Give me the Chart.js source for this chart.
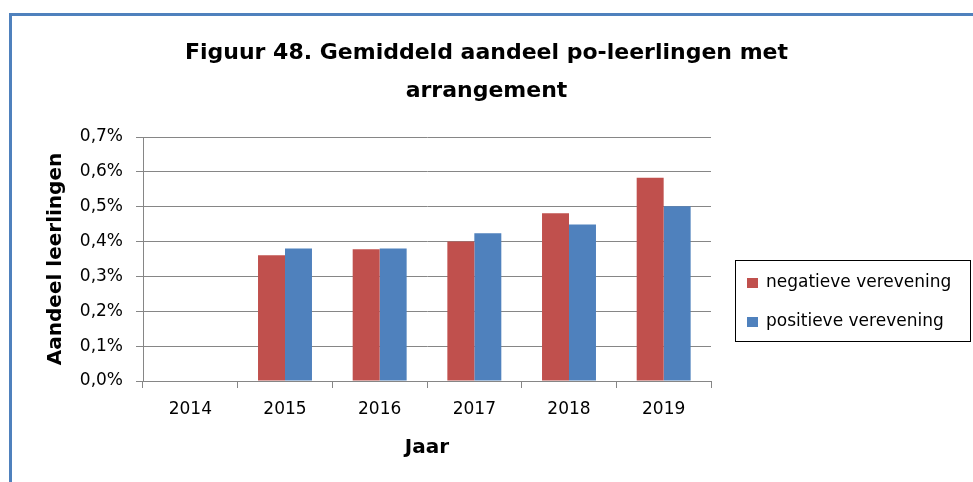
<!DOCTYPE html>
<html>
<head>
<meta charset="utf-8">
<script src="https://cdn.jsdelivr.net/npm/chart.js@4/dist/chart.umd.min.js"></script>
<style>
  html, body { margin: 0; padding: 0; background: #fff; }
  #frame {
    position: absolute; left: 9px; top: 13px; width: 990px; height: 490px;
    border-left: 3px solid #4F81BD; border-top: 3px solid #4F81BD;
  }
  #wrap { position: absolute; left: 0; top: 0; width: 973px; height: 482px; }
</style>
</head>
<body>
<div id="frame"></div>
<div id="wrap"><canvas id="chart"></canvas></div>
<script>
// Categories and values (share of pupils, in %)
const years = ['2014', '2015', '2016', '2017', '2018', '2019'];
const negatieveVerevening = [null, 0.361, 0.378, 0.400, 0.481, 0.583];
const positieveVerevening = [null, 0.380, 0.380, 0.424, 0.449, 0.501];
const yTickLabels = ['0,0%', '0,1%', '0,2%', '0,3%', '0,4%', '0,5%', '0,6%', '0,7%'];

const FONT = 'DejaVu Sans';
const GRID = '#868686';

// Boxed legend to the right of the plot
const boxLegend = {
  id: 'boxLegend',
  afterDraw(chart) {
    const ctx = chart.ctx;
    const ca = chart.chartArea;
    const left = ca.right + 24, top = ca.top + 123, w = 235, h = 81;
    ctx.save();
    ctx.strokeStyle = '#000';
    ctx.lineWidth = 1;
    ctx.strokeRect(left + 0.5, top + 0.5, w, h);
    ctx.font = '17px "' + FONT + '"';
    ctx.textBaseline = 'middle';
    ctx.textAlign = 'left';
    chart.data.datasets.forEach((ds, i) => {
      const cy = top + 23 + i * 39;
      ctx.fillStyle = ds.backgroundColor;
      ctx.fillRect(left + 12, cy - 5, 11, 10);
      ctx.fillStyle = '#000';
      ctx.fillText(ds.label, left + 31, cy);
    });
    ctx.restore();
  }
};

new Chart(document.getElementById('chart'), {
  type: 'bar',
  data: {
    labels: years,
    datasets: [
      { label: 'negatieve verevening', data: negatieveVerevening, backgroundColor: '#C0504D',
        categoryPercentage: 0.57, barPercentage: 1.0 },
      { label: 'positieve verevening', data: positieveVerevening, backgroundColor: '#4F81BD',
        categoryPercentage: 0.57, barPercentage: 1.0 }
    ]
  },
  options: {
    responsive: true,
    maintainAspectRatio: false,
    animation: false,
    layout: { padding: 0 },
    plugins: {
      legend: { display: false },
      tooltip: { enabled: false },
      title: {
        display: true,
        text: ['Figuur 48. Gemiddeld aandeel po-leerlingen met', 'arrangement'],
        color: '#000',
        font: { family: FONT, size: 22, weight: 'bold', lineHeight: 38 / 22 },
        padding: { top: 34, bottom: 27 }
      }
    },
    scales: {
      x: {
        offset: true,
        grid: { offset: true, drawOnChartArea: false, drawTicks: true, tickLength: 7, color: GRID },
        border: { color: GRID },
        ticks: { color: '#000', font: { family: FONT, size: 17 }, padding: 11, maxRotation: 0 },
        title: {
          display: true, text: 'Jaar', color: '#000',
          font: { family: FONT, size: 20, weight: 'bold' },
          padding: { top: 0, bottom: 22 }
        },
        afterFit(s) { s.height = 101; }
      },
      y: {
        min: 0, max: 0.7,
        ticks: {
          stepSize: 0.1, color: '#000', font: { family: FONT, size: 17 }, padding: 13,
          callback: (v, i) => yTickLabels[i]
        },
        grid: { color: GRID, tickLength: 7 },
        border: { color: GRID },
        title: {
          display: true, text: 'Aandeel leerlingen', color: '#000',
          font: { family: FONT, size: 20, weight: 'bold' },
          padding: { top: 44, bottom: 0 }
        },
        afterFit(s) { s.width = 143; }
      },
      legendSpace: {
        position: 'right',
        display: true,
        grid: { drawOnChartArea: false, drawTicks: false },
        border: { display: false },
        ticks: { display: false },
        afterFit(s) { s.width = 262; }
      }
    }
  },
  plugins: [boxLegend]
});
</script>
</body>
</html>
